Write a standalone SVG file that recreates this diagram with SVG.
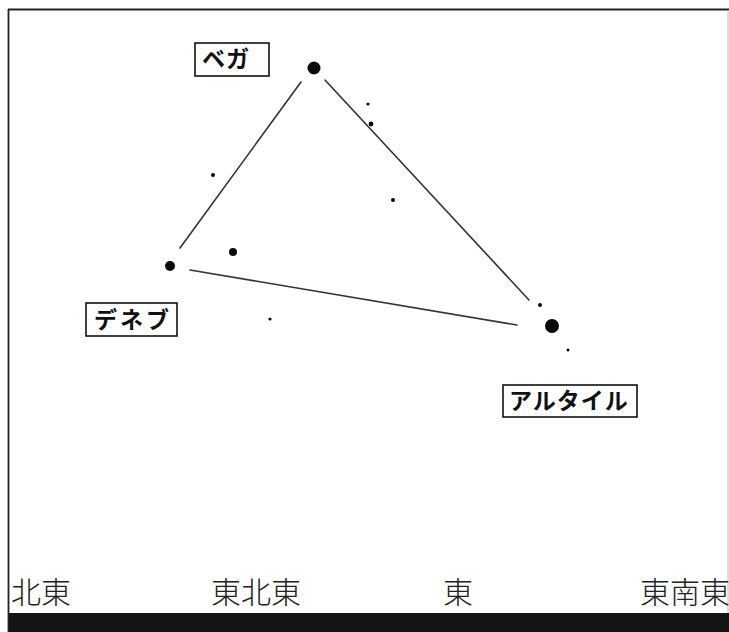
<svg xmlns="http://www.w3.org/2000/svg" width="729" height="632" viewBox="0 0 729 632">
  <style>
    .lbl { fill: none; stroke: #111; stroke-width: 1.6; }
    .lt { font-family: "Noto Sans CJK JP", "Noto Sans", sans-serif; font-weight: bold; font-size: 23px; fill: #111; }
    .dir { font-family: "Noto Sans CJK JP", "Noto Sans", sans-serif; font-weight: 300; font-size: 30px; fill: #222; }
    .ln { stroke: #333; stroke-width: 1.6; fill: none; stroke-linecap: round; }
    .star { fill: #0a0a0a; }
  </style>
  <rect x="0" y="0" width="729" height="632" fill="#ffffff"/>
  <g id="frame">
    <line x1="8" y1="9.5" x2="729" y2="9.5" stroke="#222" stroke-width="2"/>
    <line x1="8.5" y1="9" x2="8.5" y2="632" stroke="#222" stroke-width="1.8"/>
    <line x1="728" y1="10" x2="728" y2="613" stroke="#bbb" stroke-width="1"/>
    <rect x="9" y="613" width="720" height="19" fill="#141414"/>
  </g>
  <g id="connectors">
    <line class="ln" x1="180" y1="248" x2="301" y2="82"/>
    <line class="ln" x1="325" y1="80" x2="529" y2="300"/>
    <line class="ln" x1="190" y1="270" x2="517" y2="325" stroke-width="2.2" stroke="#444"/>
  </g>
  <g id="vega">
    <circle class="star" cx="314" cy="68" r="6.5"/>
    <rect class="lbl" x="195" y="43" width="74" height="33"/>
    <text class="lt" x="202" y="67" letter-spacing="1">ベガ</text>
  </g>
  <g id="deneb">
    <circle class="star" cx="170" cy="266" r="5"/>
    <rect class="lbl" x="86" y="303" width="91" height="33"/>
    <text class="lt" x="94" y="328" letter-spacing="3">デネブ</text>
  </g>
  <g id="altair">
    <circle class="star" cx="552" cy="326" r="7"/>
    <rect class="lbl" x="503" y="385" width="134" height="32"/>
    <text class="lt" x="509" y="409" letter-spacing="1">アルタイル</text>
  </g>
  <g id="faint-stars">
    <circle class="star" cx="213" cy="175" r="2"/>
    <circle class="star" cx="233" cy="252" r="4"/>
    <circle class="star" cx="368" cy="104" r="1.6"/>
    <circle class="star" cx="371" cy="124" r="2.4"/>
    <circle class="star" cx="393" cy="200" r="2"/>
    <circle class="star" cx="270" cy="319" r="1.6"/>
    <circle class="star" cx="540" cy="305" r="2"/>
    <circle class="star" cx="568" cy="350" r="1.5"/>
  </g>
  <g id="directions">
    <text class="dir" x="11" y="603">北東</text>
    <text class="dir" x="211" y="603">東北東</text>
    <text class="dir" x="443" y="603">東</text>
    <text class="dir" x="640" y="603">東南東</text>
  </g>
</svg>
